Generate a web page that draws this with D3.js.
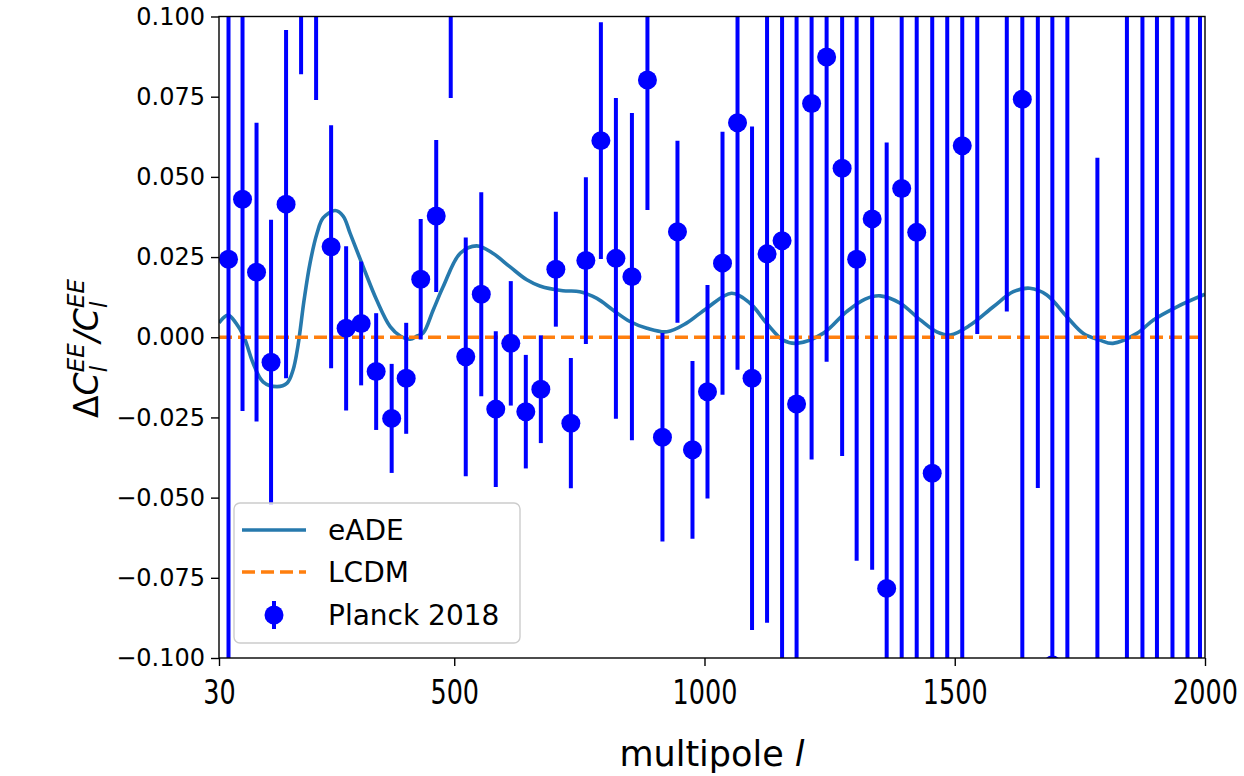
<!DOCTYPE html>
<html>
<head>
<meta charset="utf-8">
<script src="https://cdn.jsdelivr.net/npm/d3@7"></script>
<style>
  html, body { margin: 0; padding: 0; background: #ffffff; }
  svg { display: block; }
  text { font-family: "DejaVu Sans", sans-serif; fill: #000; }
</style>
</head>
<body>
<svg id="chart" width="1244" height="776"></svg>
<script>
// ---------------- data ----------------
const ell = [49, 77, 105, 134, 164, 194, 224, 254, 284, 314, 344, 375, 404, 433, 464, 493, 523, 554, 583, 613,
  643, 673, 703, 733, 763, 793, 823, 855, 886, 916, 946, 976, 1006, 1036, 1066, 1095, 1125, 1155, 1184, 1214,
  1244, 1275, 1304, 1335, 1364, 1394, 1424, 1455, 1485, 1515, 1545, 1604, 1635, 1666, 1695, 1725, 1785, 1844,
  1875, 1904, 1935, 1965, 1990];
const delta = [0.0243, 0.043, 0.0203, -0.0078, 0.0415, 0.125, 0.12, 0.0282, 0.0028, 0.0043, -0.0107, -0.0253,
  -0.0128, 0.0181, 0.0378, 0.12, -0.0061, 0.0134, -0.0224, -0.0019, -0.0232, -0.0162, 0.0212, -0.0268, 0.0239,
  0.0613, 0.0246, 0.0189, 0.0802, -0.0312, 0.0329, -0.0351, -0.017, 0.0231, 0.0669, -0.0128, 0.026, 0.0301,
  -0.0208, 0.0729, 0.0874, 0.0527, 0.0243, 0.0369, -0.0783, 0.0464, 0.0327, -0.0424, -0.13, 0.0597, 0.13, 0.14,
  0.0742, 0.13, -0.1022, 0.15, -0.15, -0.12, 0.12, -0.13, 0.15, -0.14, 0.13];
const sigma = [0.15, 0.066, 0.0466, 0.0444, 0.0543, 0.043, 0.046, 0.0379, 0.0256, 0.0193, 0.0182, 0.017, 0.0173,
  0.0188, 0.0237, 0.0454, 0.0372, 0.0318, 0.0243, 0.0194, 0.0177, 0.0168, 0.0179, 0.0203, 0.026, 0.0369, 0.05,
  0.051, 0.0405, 0.0325, 0.0284, 0.0277, 0.0333, 0.041, 0.077, 0.0785, 0.115, 0.15, 0.13, 0.111, 0.095, 0.0897,
  0.094, 0.1094, 0.139, 0.16, 0.15, 0.16, 0.26, 0.17, 0.129, 0.132, 0.19, 0.177, 0.25, 0.3, 0.206, 0.3, 0.3,
  0.3, 0.3, 0.3, 0.3];

const eadeEll = [30, 48, 64, 80, 98, 118, 146, 166, 178, 188, 200, 212, 226, 238, 262, 278, 292, 318, 345, 372,
  392, 412, 426, 438, 458, 478, 512, 545, 577, 611, 645, 671, 717, 751, 785, 817, 851, 885, 925, 964, 1004,
  1054, 1091, 1124, 1157, 1184, 1237, 1284, 1321, 1351, 1391, 1431, 1464, 1491, 1531, 1577, 1617, 1650, 1684,
  1724, 1757, 1790, 1816, 1864, 1897, 1944, 2000];
const eadeVal = [0.0045, 0.0069, 0.0044, 0.0001, -0.008, -0.0139, -0.0154, -0.0143, -0.0102, -0.0024, 0.0116,
  0.0232, 0.0325, 0.0372, 0.0395, 0.0378, 0.0324, 0.022, 0.0116, 0.0033, 0.0004, -0.0006, 0.0004, 0.0013,
  0.0085, 0.0158, 0.0262, 0.0285, 0.0262, 0.022, 0.0179, 0.016, 0.0145, 0.0142, 0.0121, 0.0085, 0.0049,
  0.0028, 0.0017, 0.0044, 0.009, 0.0137, 0.0106, 0.0044, -0.0009, -0.0019, 0.0012, 0.008, 0.0119, 0.0129,
  0.0106, 0.0054, 0.0017, 0.0007, 0.0038, 0.0095, 0.0142, 0.0153, 0.0132, 0.0064, 0.0012, -0.0009, -0.0019,
  0.0012, 0.0054, 0.0095, 0.0134];

const lcdmEll = [30, 2000];
const lcdmVal = [0, 0];

const xTicks = [30, 500, 1000, 1500, 2000];
const yTicks = [-0.1, -0.075, -0.05, -0.025, 0, 0.025, 0.05, 0.075, 0.1];

// ---------------- layout ----------------
const svg = d3.select("#chart");
const L = 219, R = 1205, T = 16.5, B = 658;
const x = d3.scaleLinear().domain([30, 2000]).range([L, R]);
const y = d3.scaleLinear().domain([-0.1, 0.1]).range([B, T]);

svg.append("defs").append("clipPath").attr("id", "clip")
  .append("rect").attr("x", L).attr("y", T).attr("width", R - L).attr("height", B - T);

const plot = svg.append("g").attr("clip-path", "url(#clip)");

// eADE curve
const eade = eadeEll.map((l, i) => [l, eadeVal[i]]);
plot.append("path").datum(eade)
  .attr("fill", "none").attr("stroke", "#2679ad").attr("stroke-width", 3.6)
  .attr("d", d3.line().x(d => x(d[0])).y(d => y(d[1])).curve(d3.curveCatmullRom.alpha(0.5)));

// LCDM
const lcdm = lcdmEll.map((l, i) => [l, lcdmVal[i]]);
plot.append("path").datum(lcdm)
  .attr("fill", "none").attr("stroke", "#ff7f0e").attr("stroke-width", 3.6)
  .attr("stroke-dasharray", "13,6")
  .attr("d", d3.line().x(d => x(d[0])).y(d => y(d[1])));

// error bars
const pts = ell.map((l, i) => ({ l, v: delta[i], s: sigma[i] }));
plot.selectAll("line.err").data(pts).enter().append("line")
  .attr("class", "err")
  .attr("x1", d => x(d.l)).attr("x2", d => x(d.l))
  .attr("y1", d => y(d.v - d.s)).attr("y2", d => y(d.v + d.s))
  .attr("stroke", "#0000ff").attr("stroke-width", 4);
plot.selectAll("circle.pt").data(pts).enter().append("circle")
  .attr("class", "pt")
  .attr("cx", d => x(d.l)).attr("cy", d => y(d.v)).attr("r", 9.5)
  .attr("fill", "#0000ff");

// axes
const xAxis = svg.append("g").attr("transform", `translate(0,${B})`)
  .call(d3.axisBottom(x).tickValues(xTicks).tickSize(8).tickPadding(8).tickFormat(d3.format("d")));
xAxis.select(".domain").remove();
xAxis.selectAll(".tick line").attr("stroke", "#000").attr("stroke-width", 1.4);
xAxis.selectAll(".tick text").attr("font-size", 30).attr("font-family", "DejaVu Sans")
  .attr("fill", "#000")
  .attr("transform", "translate(0,4) scale(0.85,1.12)");

const yAxis = svg.append("g").attr("transform", `translate(${L},0)`)
  .call(d3.axisLeft(y).tickValues(yTicks).tickSize(8).tickPadding(6)
    .tickFormat(d => d3.format(".3f")(d).replace("-", "\u2212")));
yAxis.select(".domain").remove();
yAxis.selectAll(".tick line").attr("stroke", "#000").attr("stroke-width", 1.4);
yAxis.selectAll(".tick text").attr("font-size", 24).attr("font-family", "DejaVu Sans").attr("fill", "#000");

// frame
svg.append("rect").attr("x", L).attr("y", T).attr("width", R - L).attr("height", B - T)
  .attr("fill", "none").attr("stroke", "#000").attr("stroke-width", 1.4);

// x label
const xl = svg.append("text").attr("x", (L + R) / 2).attr("y", 766)
  .attr("text-anchor", "middle").attr("font-size", 35);
xl.append("tspan").text("multipole ");
xl.append("tspan").attr("font-style", "italic").text("l");

// y label (mathtext-like)
const yl = svg.append("g").attr("transform", "translate(98,348) rotate(-90)");
const inner = yl.append("g");
let cur = 0;
function piece(txt, size, italic, dy) {
  const t = inner.append("text").attr("x", cur).attr("y", dy).attr("font-size", size)
    .attr("font-style", italic ? "italic" : "normal").text(txt);
  return t.node().getComputedTextLength();
}
function supsub(sup, sub) {
  const w1 = piece(sup, 23, true, -14);
  const w2 = piece(sub, 23, true, 9);
  cur += Math.max(w1, w2) + 1;
}
cur += piece("\u0394", 33, false, 0);
cur += piece("C", 33, true, 0);
supsub("EE", "l");
cur += piece("/", 33, true, 0);
cur += piece("C", 33, true, 0);
supsub("EE", "l");
inner.attr("transform", `translate(${-cur / 2},0)`);

// legend
const lg = svg.append("g");
lg.append("rect").attr("x", 234).attr("y", 503).attr("width", 286).attr("height", 140)
  .attr("rx", 6).attr("fill", "#ffffff").attr("fill-opacity", 0.8)
  .attr("stroke", "#cccccc").attr("stroke-width", 1.4);
const rows = [530, 572, 615];
lg.append("line").attr("x1", 242).attr("x2", 306).attr("y1", rows[0]).attr("y2", rows[0])
  .attr("stroke", "#2679ad").attr("stroke-width", 3.6);
lg.append("line").attr("x1", 242).attr("x2", 306).attr("y1", rows[1]).attr("y2", rows[1])
  .attr("stroke", "#ff7f0e").attr("stroke-width", 3.6).attr("stroke-dasharray", "13,6");
lg.append("line").attr("x1", 274).attr("x2", 274).attr("y1", rows[2] - 14).attr("y2", rows[2] + 14)
  .attr("stroke", "#0000ff").attr("stroke-width", 4);
lg.append("circle").attr("cx", 274).attr("cy", rows[2]).attr("r", 9.5).attr("fill", "#0000ff");
const labels = ["eADE", "LCDM", "Planck 2018"];
labels.forEach((s, i) => {
  lg.append("text").attr("x", 328).attr("y", rows[i]).attr("dy", "0.36em")
    .attr("font-size", 28).text(s);
});
</script>
</body>
</html>
